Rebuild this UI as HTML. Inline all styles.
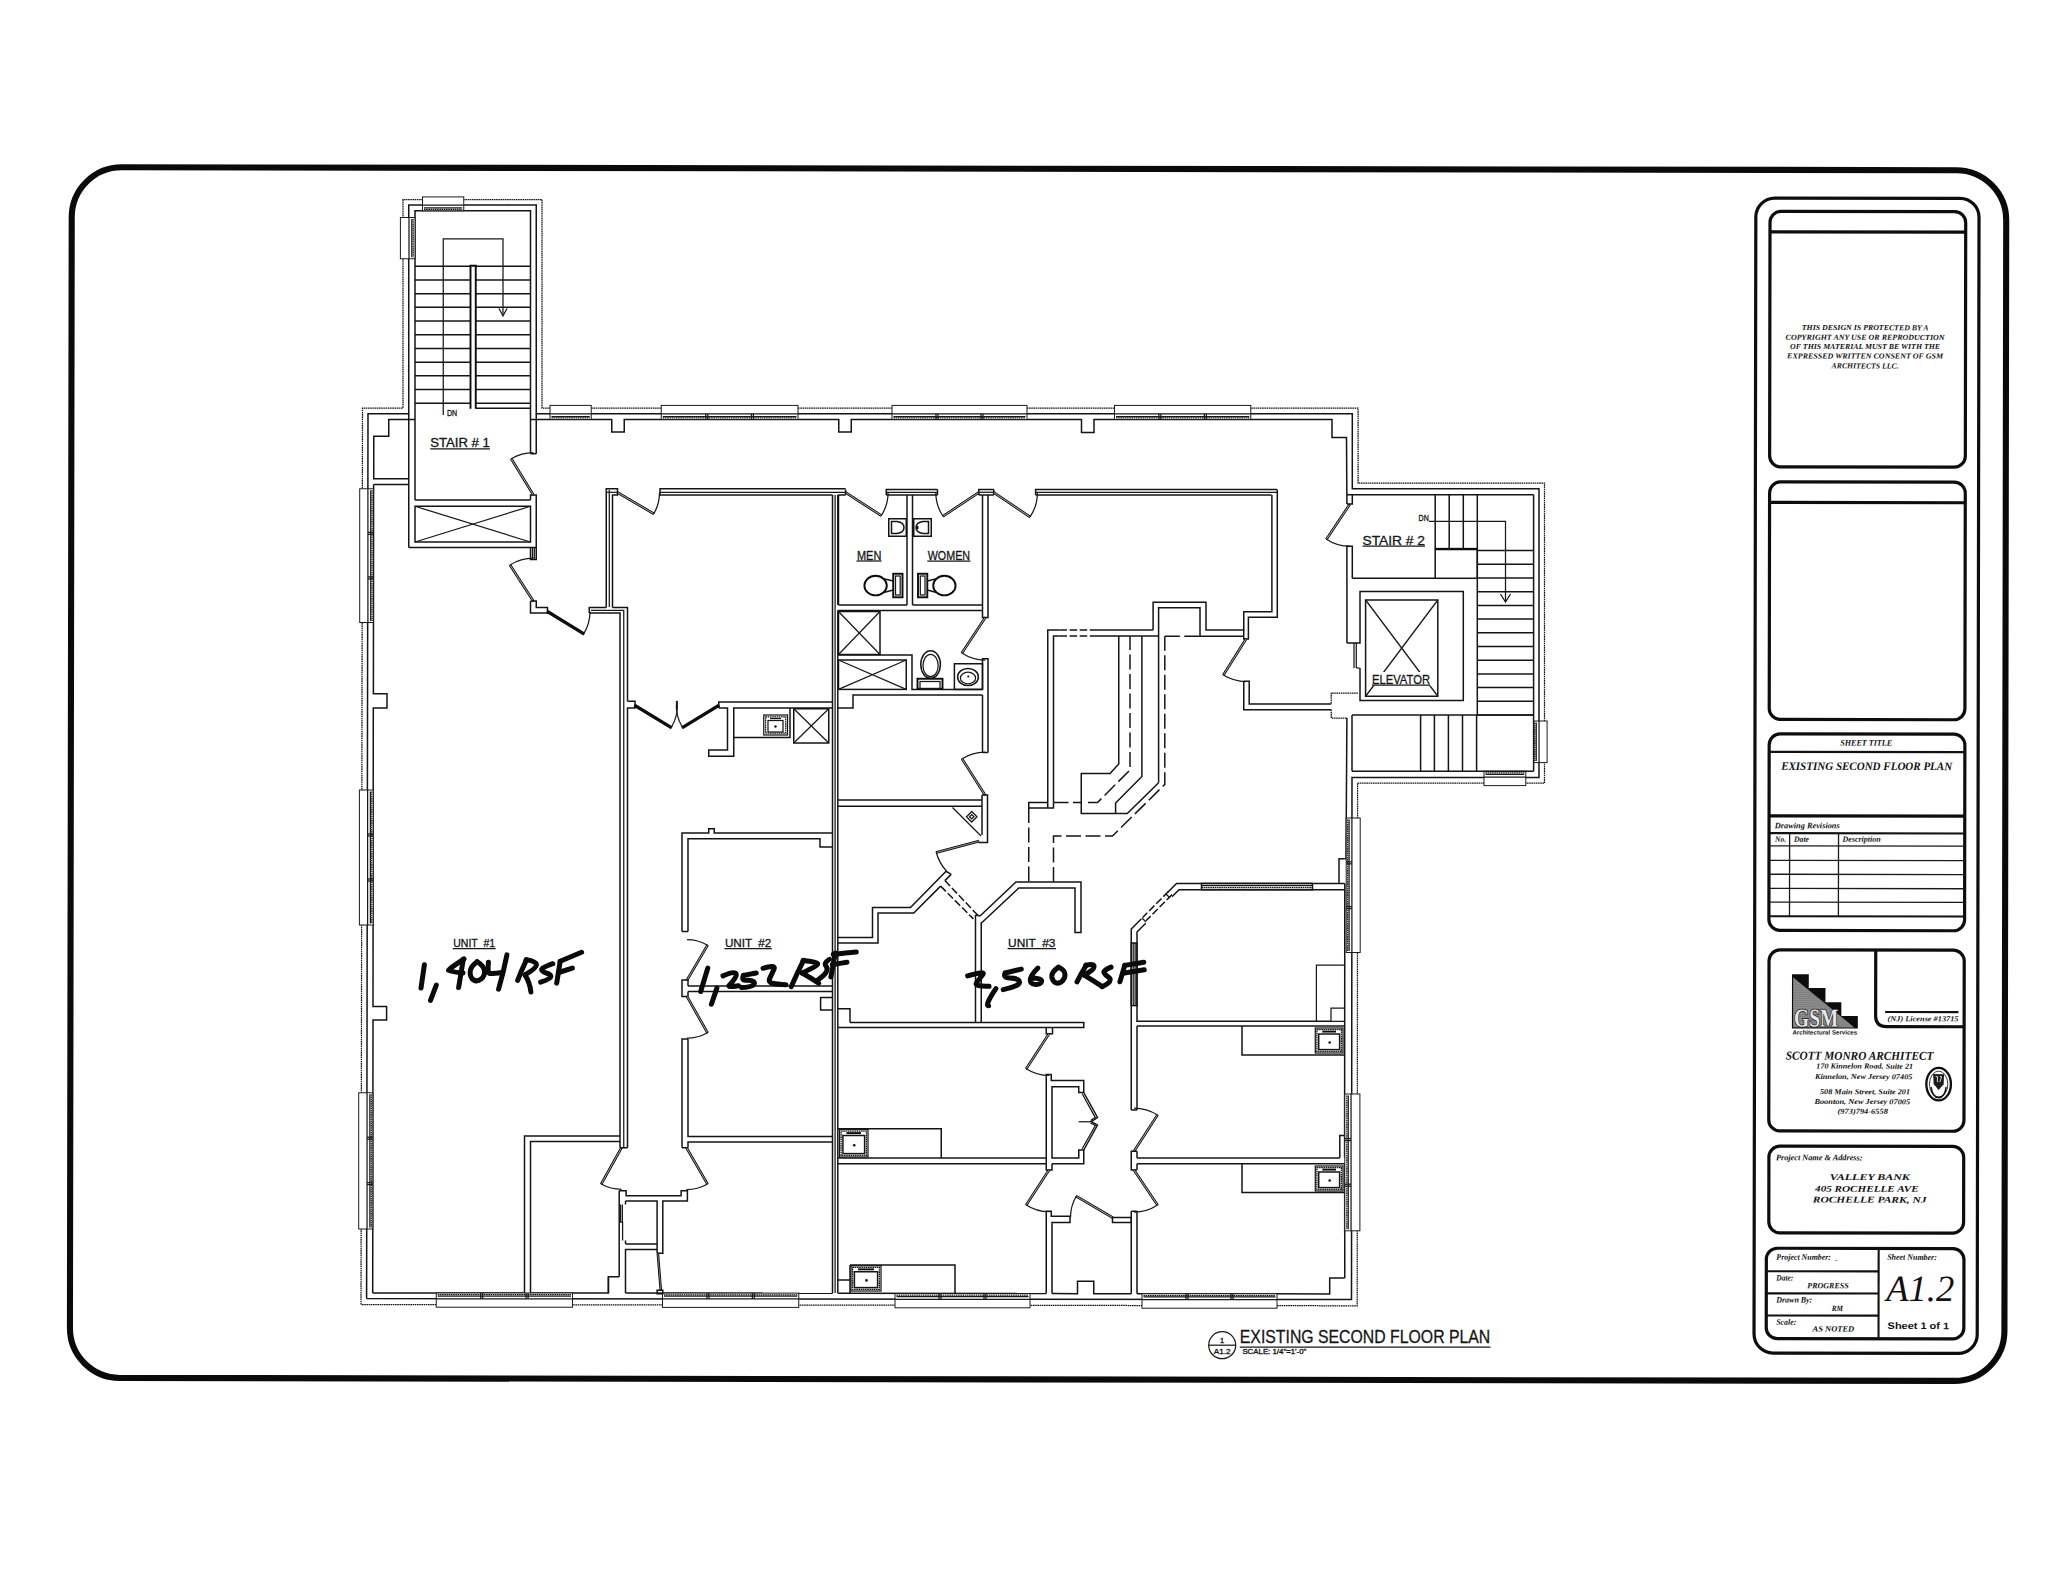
<!DOCTYPE html>
<html><head><meta charset="utf-8"><title>Existing Second Floor Plan</title>
<style>
html,body{margin:0;padding:0;background:#fff}
svg{display:block}
.s{fill:none;stroke:#141414;stroke-width:1.5}
.t{fill:none;stroke:#181818;stroke-width:1.25}
.o{fill:none;stroke:#151515;stroke-width:1.25;stroke-dasharray:1.6 0.6}
.k{fill:none;stroke:#0c0c0c;stroke-width:1.9}
.da{fill:none;stroke:#161616;stroke-width:1.5;stroke-dasharray:15 4.5}
.db{fill:none;stroke:#161616;stroke-width:1.5;stroke-dasharray:7.5 2.6}
.dl{fill:#9a9a9a;stroke:#111;stroke-width:1.0}
.dk{fill:#111;stroke:#0a0a0a;stroke-width:1.3}
.w{fill:#fff;stroke:#1c1c1c;stroke-width:1.0}
.tb{fill:none;stroke:#0d0d0d;stroke-width:3.2}
.tb2{fill:none;stroke:#111;stroke-width:2.1}
.tl{fill:none;stroke:#1a1a1a;stroke-width:1.3}
.hw{fill:none;stroke:#0a0a0a;stroke-width:5.0;stroke-linecap:round;stroke-linejoin:round}
text{font-family:"Liberation Sans",sans-serif;fill:#111}
text.cad{font-family:"Liberation Sans",sans-serif;fill:#151515;stroke:#151515;stroke-width:0.3}
text.ser{font-family:"Liberation Serif",serif;font-style:italic;fill:#111}
text.b{font-weight:bold}
text.bb{font-weight:bold;font-style:normal}
text.sans{font-family:"Liberation Sans",sans-serif;font-weight:bold}
</style></head>
<body>
<svg width="2048" height="1583" viewBox="0 0 2048 1583">
<rect x="0" y="0" width="2048" height="1583" fill="#fff"/>
<g transform="rotate(0.092 1024 790)"><rect x="70.8" y="168.7" width="1934.5" height="1210.7" rx="50" ry="50" fill="none" stroke="#0a0a0a" stroke-width="6.1"/></g>
<g transform="rotate(0.092 1024 790) translate(0.1,-1.35)">
<rect class="tb" x="1754.8" y="198.2" width="223.2" height="1155" rx="19"/>
<rect class="tb" x="1769" y="211.5" width="195.7" height="255.5" rx="11"/>
<path class="tb" d="M1769.00 232.00 L1964.70 232.00"/>
<rect class="tb" x="1769" y="482" width="195.7" height="237.6" rx="11"/>
<path class="tb" d="M1769.00 502.60 L1964.70 502.60"/>
<rect class="tb" x="1769" y="734" width="195.7" height="196.6" rx="11"/>
<path class="tb2" d="M1769.00 752.00 L1964.70 752.00"/>
<path class="tb" d="M1769.00 816.00 L1964.70 816.00"/>
<path class="tb2" d="M1769.00 833.30 L1964.70 833.30"/>
<path class="tl" d="M1769.00 846.00 L1964.70 846.00"/>
<path class="tl" d="M1769.00 860.50 L1964.70 860.50"/>
<path class="tl" d="M1769.00 874.40 L1964.70 874.40"/>
<path class="tl" d="M1769.00 888.60 L1964.70 888.60"/>
<path class="tl" d="M1769.00 902.20 L1964.70 902.20"/>
<path class="tb2" d="M1769.00 916.40 L1964.70 916.40"/>
<path class="tl" d="M1789.60 833.30 L1789.60 916.40"/>
<path class="tl" d="M1838.50 833.30 L1838.50 916.40"/>
<rect class="tb" x="1769.2" y="950" width="195.2" height="181.1" rx="11"/>
<path class="tb" d="M1875.9 950 L1875.9 1016 Q1875.9 1026.6 1887 1026.6 L1964.6 1026.6"/>
<path class="tb2" d="M1885.40 1012.00 L1958.70 1012.00"/>
<rect class="tb" x="1769.4" y="1146.3" width="194.8" height="86.7" rx="11"/>
<rect class="tb" x="1767" y="1248.4" width="197.6" height="90.4" rx="11"/>
<path class="tb2" d="M1879.30 1248.40 L1879.30 1338.80"/>
<path class="tb2" d="M1767.00 1271.40 L1879.30 1271.40"/>
<path class="tb2" d="M1767.00 1293.50 L1879.30 1293.50"/>
<path class="tb2" d="M1767.00 1315.60 L1879.30 1315.60"/>
<text class="ser b" x="1864.30" y="330.10" font-size="7.6" text-anchor="middle" textLength="126.7" lengthAdjust="spacingAndGlyphs">THIS DESIGN IS PROTECTED BY A</text>
<text class="ser b" x="1864.30" y="339.80" font-size="7.6" text-anchor="middle" textLength="159.0" lengthAdjust="spacingAndGlyphs">COPYRIGHT ANY USE OR REPRODUCTION</text>
<text class="ser b" x="1864.30" y="349.00" font-size="7.6" text-anchor="middle" textLength="150.0" lengthAdjust="spacingAndGlyphs">OF THIS MATERIAL MUST BE WITH THE</text>
<text class="ser b" x="1864.30" y="358.50" font-size="7.6" text-anchor="middle" textLength="156.0" lengthAdjust="spacingAndGlyphs">EXPRESSED WRITTEN CONSENT OF GSM</text>
<text class="ser b" x="1864.30" y="368.40" font-size="7.6" text-anchor="middle" textLength="67.0" lengthAdjust="spacingAndGlyphs">ARCHITECTS LLC.</text>
<text class="ser b" x="1866.00" y="745.60" font-size="8.3" text-anchor="middle" textLength="52.0" lengthAdjust="spacingAndGlyphs">SHEET TITLE</text>
<text class="ser b" x="1781.00" y="770.00" font-size="11.5" text-anchor="start" textLength="171.0" lengthAdjust="spacingAndGlyphs">EXISTING SECOND FLOOR PLAN</text>
<text class="ser b" x="1774.70" y="828.30" font-size="8.3" text-anchor="start" textLength="65.0" lengthAdjust="spacingAndGlyphs">Drawing Revisions</text>
<text class="ser b" x="1775.00" y="841.80" font-size="8" text-anchor="start" textLength="11.0" lengthAdjust="spacingAndGlyphs">No.</text>
<text class="ser b" x="1794.00" y="841.80" font-size="8" text-anchor="start" textLength="15.0" lengthAdjust="spacingAndGlyphs">Date</text>
<text class="ser b" x="1842.60" y="841.80" font-size="8" text-anchor="start" textLength="38.0" lengthAdjust="spacingAndGlyphs">Description</text>
<text class="ser b" x="1887.80" y="1021.20" font-size="7.5" text-anchor="start" textLength="71.0" lengthAdjust="spacingAndGlyphs">(NJ) License #13715</text>
<text class="ser b" x="1786.00" y="1059.70" font-size="12" text-anchor="start" textLength="147.7" lengthAdjust="spacingAndGlyphs">SCOTT MONRO ARCHITECT</text>
<text class="ser b" x="1816.70" y="1068.60" font-size="7.6" text-anchor="start" textLength="96.7" lengthAdjust="spacingAndGlyphs">170 Kinnelon Road, Suite 21</text>
<text class="ser b" x="1815.30" y="1079.10" font-size="7.6" text-anchor="start" textLength="97.5" lengthAdjust="spacingAndGlyphs">Kinnelon, New Jersey 07405</text>
<text class="ser b" x="1820.40" y="1094.20" font-size="7.6" text-anchor="start" textLength="90.0" lengthAdjust="spacingAndGlyphs">508 Main Street, Suite 201</text>
<text class="ser b" x="1814.80" y="1104.10" font-size="7.6" text-anchor="start" textLength="95.8" lengthAdjust="spacingAndGlyphs">Boonton, New Jersey 07005</text>
<text class="ser b" x="1838.00" y="1113.70" font-size="7.6" text-anchor="start" textLength="50.3" lengthAdjust="spacingAndGlyphs">(973)794-6558</text>
<text class="ser b" x="1776.40" y="1160.40" font-size="8.3" text-anchor="start" textLength="86.6" lengthAdjust="spacingAndGlyphs">Project Name &amp; Address:</text>
<text class="ser b" x="1830.30" y="1180.00" font-size="8.8" text-anchor="start" textLength="80.0" lengthAdjust="spacingAndGlyphs">VALLEY BANK</text>
<text class="ser b" x="1815.60" y="1191.70" font-size="8.8" text-anchor="start" textLength="103.7" lengthAdjust="spacingAndGlyphs">405 ROCHELLE AVE</text>
<text class="ser b" x="1813.30" y="1202.60" font-size="8.8" text-anchor="start" textLength="113.7" lengthAdjust="spacingAndGlyphs">ROCHELLE PARK, NJ</text>
<text class="ser b" x="1777.00" y="1259.80" font-size="8.3" text-anchor="start" textLength="54.6" lengthAdjust="spacingAndGlyphs">Project Number:</text>
<text class="ser b" x="1836.00" y="1262.00" font-size="7.5" text-anchor="start">-</text>
<text class="ser b" x="1777.00" y="1280.60" font-size="8.3" text-anchor="start" textLength="17.0" lengthAdjust="spacingAndGlyphs">Date:</text>
<text class="ser b" x="1808.00" y="1288.30" font-size="8" text-anchor="start" textLength="41.4" lengthAdjust="spacingAndGlyphs">PROGRESS</text>
<text class="ser b" x="1777.00" y="1302.60" font-size="8.3" text-anchor="start" textLength="36.0" lengthAdjust="spacingAndGlyphs">Drawn By:</text>
<text class="ser b" x="1832.40" y="1311.00" font-size="8" text-anchor="start" textLength="11.3" lengthAdjust="spacingAndGlyphs">RM</text>
<text class="ser b" x="1777.00" y="1324.80" font-size="8.3" text-anchor="start" textLength="20.0" lengthAdjust="spacingAndGlyphs">Scale:</text>
<text class="ser b" x="1813.30" y="1331.60" font-size="8" text-anchor="start" textLength="41.7" lengthAdjust="spacingAndGlyphs">AS NOTED</text>
<text class="ser b" x="1887.80" y="1259.80" font-size="8.3" text-anchor="start" textLength="49.7" lengthAdjust="spacingAndGlyphs">Sheet Number:</text>
<text class="ser" x="1887.00" y="1301.00" font-size="37" text-anchor="start" textLength="68.0" lengthAdjust="spacingAndGlyphs">A1.2</text>
<text class="sans" x="1888.40" y="1329.00" font-size="9.5" text-anchor="start" textLength="61.4" lengthAdjust="spacingAndGlyphs">Sheet 1 of 1</text>
<path d="M1792.2 974.4 L1809 974.4 L1809 988 L1825.7 988 L1825.7 1002.3 L1841.6 1002.3 L1841.6 1016 L1858.1 1016 L1858.1 1028.5 L1792.2 1028.5 Z" fill="#0d0d0d"/>
<path d="M1793.4 977.5 L1854.5 1027.4 L1793.4 1027.4 Z" fill="#9c9c9c"/>
<g stroke="#444" stroke-width="0.5"><path d="M1793.4 979.0 L1795.2 979.0"/><path d="M1793.4 981.0 L1797.7 981.0"/><path d="M1793.4 983.0 L1800.1 983.0"/><path d="M1793.4 985.0 L1802.6 985.0"/><path d="M1793.4 987.0 L1805.0 987.0"/><path d="M1793.4 989.0 L1807.5 989.0"/><path d="M1793.4 991.0 L1809.9 991.0"/><path d="M1793.4 993.0 L1812.4 993.0"/><path d="M1793.4 995.0 L1814.8 995.0"/><path d="M1793.4 997.0 L1817.3 997.0"/><path d="M1793.4 999.0 L1819.7 999.0"/><path d="M1793.4 1001.0 L1822.2 1001.0"/><path d="M1793.4 1003.0 L1824.6 1003.0"/><path d="M1793.4 1005.0 L1827.1 1005.0"/><path d="M1793.4 1007.0 L1829.5 1007.0"/><path d="M1793.4 1009.0 L1832.0 1009.0"/><path d="M1793.4 1011.0 L1834.4 1011.0"/><path d="M1793.4 1013.0 L1836.9 1013.0"/><path d="M1793.4 1015.0 L1839.3 1015.0"/><path d="M1793.4 1017.0 L1841.8 1017.0"/><path d="M1793.4 1019.0 L1844.2 1019.0"/><path d="M1793.4 1021.0 L1846.7 1021.0"/><path d="M1793.4 1023.0 L1849.1 1023.0"/><path d="M1793.4 1025.0 L1851.6 1025.0"/><path d="M1793.4 1027.0 L1854.0 1027.0"/></g>
<text class="ser bb" x="1794.40" y="1026.60" font-size="25.5" text-anchor="start" textLength="44.0" lengthAdjust="spacingAndGlyphs" style="fill:#e6e6e6;stroke:#111;stroke-width:1.5;paint-order:stroke">GSM</text>
<text class="sans" x="1792.70" y="1034.60" font-size="6.2" text-anchor="start" textLength="64.8" lengthAdjust="spacingAndGlyphs">Architectural Services</text>
<ellipse cx="1939" cy="1084" rx="12.3" ry="16.3" fill="none" stroke="#0d0d0d" stroke-width="2.3"/>
<ellipse cx="1939" cy="1084" rx="9.2" ry="13" fill="none" stroke="#222" stroke-width="0.9"/>
<path d="M1933.5 1074 L1944.5 1074 L1944 1084 L1939 1090 L1934 1084 Z" fill="#1a1a1a"/>
<path d="M1936 1076.5 L1937.8 1076.5 L1937.8 1082 M1940.2 1076.5 L1942 1076.5 L1940.2 1082" stroke="#eee" stroke-width="0.9" fill="none"/>
<path d="M1931.5 1087 Q1932.5 1097 1939 1097.5 Q1945.5 1097 1946.5 1087" fill="none" stroke="#111" stroke-width="1.6"/>
</g>
<path class="o" d="M361.00 1304.50 L362.50 408.00 L403.00 408.00 L403.00 199.50 L542.00 199.50 L542.00 408.00 L1358.10 408.00 L1358.10 483.00 L1544.50 483.00 L1544.50 783.00 L1357.60 783.00 L1357.20 1305.80 L361.00 1304.50"/>
<path class="s" d="M366.60 1298.60 L368.00 413.75 L408.75 413.75 L408.75 205.00 L536.25 205.00 L536.25 413.75 L1352.30 413.75 L1352.30 488.75 L1539.00 488.75 L1539.00 777.50 L1352.00 777.50 L1351.50 1299.60 L366.60 1298.60"/>
<path class="s" d="M415.00 500.00 L415.00 210.75 L530.50 210.75 L530.50 453.75"/>
<path class="s" d="M408.75 413.75 L408.75 547.50"/>
<path class="s" d="M530.50 419.50 L611.75 419.50 L611.75 432.00 L624.25 432.00 L624.25 419.50 L838.75 419.50 L838.75 432.00 L851.25 432.00 L851.25 419.50 L1081.50 419.50 L1081.50 432.50 L1094.00 432.50 L1094.00 419.50 L1332.00 419.50 L1332.00 437.50 L1346.50 437.50 L1346.90 504.00"/>
<path class="s" d="M536.25 413.75 L536.25 453.75"/>
<path class="s" d="M415.00 419.50 L388.75 419.50 L388.75 436.25 L373.75 436.25 L373.75 478.75 L408.75 478.75"/>
<path class="s" d="M373.60 484.50 L408.75 484.50"/>
<path class="s" d="M373.60 484.50 L373.40 693.75 L387.00 693.75 L387.00 708.00 L373.30 708.00 L373.00 1006.50 L386.60 1006.50 L386.60 1020.00 L373.00 1020.00 L372.70 1292.90"/>
<path class="s" d="M372.70 1292.90 L524.50 1292.90"/>
<path class="s" d="M530.50 1292.90 L608.40 1292.90 L608.40 1276.70 L619.20 1276.70"/>
<path class="s" d="M625.50 1293.00 L832.50 1293.20"/>
<path class="s" d="M838.00 1293.30 L1046.25 1293.60"/>
<path class="s" d="M1052.00 1293.60 L1077.50 1293.70 L1077.50 1281.25 L1093.75 1281.25 L1093.75 1293.70 L1131.25 1293.75"/>
<path class="s" d="M1137.00 1293.75 L1329.70 1293.90 L1329.70 1278.00 L1344.80 1278.00"/>
<path class="s" d="M1346.90 718.00 L1346.00 858.75"/>
<path class="s" d="M1344.80 883.40 L1344.60 1135.50 L1339.80 1135.50 L1339.80 1157.80"/>
<path class="s" d="M1344.60 1163.75 L1344.80 1278.00"/>
<path class="s" d="M1344.60 1135.50 L1344.60 1157.80"/>
<rect class="w" x="422.50" y="196.90" width="41.25" height="13.85"/>
<path class="t" d="M422.50 205.12 L463.75 205.12"/>
<path class="t" d="M424.00 207.93 L462.25 207.93"/>
<path class="o" d="M424.00 209.32 L462.25 209.32"/>
<rect class="w" x="400.40" y="217.50" width="14.60" height="41.25"/>
<path class="t" d="M409.00 217.50 L409.00 258.75"/>
<path class="t" d="M411.80 219.00 L411.80 257.25"/>
<path class="o" d="M413.20 219.00 L413.20 257.25"/>
<rect class="w" x="550.00" y="405.40" width="41.25" height="14.10"/>
<path class="t" d="M550.00 413.75 L591.25 413.75"/>
<path class="t" d="M551.50 416.55 L589.75 416.55"/>
<path class="o" d="M551.50 417.95 L589.75 417.95"/>
<rect class="w" x="661.25" y="405.40" width="136.75" height="14.10"/>
<path class="t" d="M661.25 413.75 L798.00 413.75"/>
<path class="t" d="M662.75 416.55 L796.50 416.55"/>
<path class="o" d="M662.75 417.95 L796.50 417.95"/>
<path class="t" d="M705.83 413.75 L705.83 419.50"/>
<path class="t" d="M707.83 413.75 L707.83 419.50"/>
<path class="t" d="M751.42 413.75 L751.42 419.50"/>
<path class="t" d="M753.42 413.75 L753.42 419.50"/>
<rect class="w" x="892.00" y="405.40" width="135.00" height="14.10"/>
<path class="t" d="M892.00 413.75 L1027.00 413.75"/>
<path class="t" d="M893.50 416.55 L1025.50 416.55"/>
<path class="o" d="M893.50 417.95 L1025.50 417.95"/>
<path class="t" d="M936.00 413.75 L936.00 419.50"/>
<path class="t" d="M938.00 413.75 L938.00 419.50"/>
<path class="t" d="M981.00 413.75 L981.00 419.50"/>
<path class="t" d="M983.00 413.75 L983.00 419.50"/>
<rect class="w" x="1114.50" y="405.40" width="136.25" height="14.10"/>
<path class="t" d="M1114.50 413.75 L1250.75 413.75"/>
<path class="t" d="M1116.00 416.55 L1249.25 416.55"/>
<path class="o" d="M1116.00 417.95 L1249.25 417.95"/>
<path class="t" d="M1158.92 413.75 L1158.92 419.50"/>
<path class="t" d="M1160.92 413.75 L1160.92 419.50"/>
<path class="t" d="M1204.33 413.75 L1204.33 419.50"/>
<path class="t" d="M1206.33 413.75 L1206.33 419.50"/>
<rect class="w" x="359.70" y="488.75" width="13.80" height="133.75"/>
<path class="t" d="M367.90 488.75 L367.90 622.50"/>
<path class="t" d="M370.70 490.25 L370.70 621.00"/>
<path class="o" d="M372.10 490.25 L372.10 621.00"/>
<path class="t" d="M367.90 532.33 L373.50 532.33"/>
<path class="t" d="M367.90 534.33 L373.50 534.33"/>
<path class="t" d="M367.90 576.92 L373.50 576.92"/>
<path class="t" d="M367.90 578.92 L373.50 578.92"/>
<rect class="w" x="359.40" y="790.00" width="13.80" height="135.00"/>
<path class="t" d="M367.60 790.00 L367.60 925.00"/>
<path class="t" d="M370.40 791.50 L370.40 923.50"/>
<path class="o" d="M371.80 791.50 L371.80 923.50"/>
<path class="t" d="M367.60 834.00 L373.20 834.00"/>
<path class="t" d="M367.60 836.00 L373.20 836.00"/>
<path class="t" d="M367.60 879.00 L373.20 879.00"/>
<path class="t" d="M367.60 881.00 L373.20 881.00"/>
<rect class="w" x="358.70" y="1092.75" width="14.10" height="136.25"/>
<path class="t" d="M367.05 1092.75 L367.05 1229.00"/>
<path class="t" d="M369.85 1094.25 L369.85 1227.50"/>
<path class="o" d="M371.25 1094.25 L371.25 1227.50"/>
<path class="t" d="M367.05 1137.17 L372.80 1137.17"/>
<path class="t" d="M367.05 1139.17 L372.80 1139.17"/>
<path class="t" d="M367.05 1182.58 L372.80 1182.58"/>
<path class="t" d="M367.05 1184.58 L372.80 1184.58"/>
<rect class="w" x="436.25" y="1293.00" width="136.25" height="14.20"/>
<path class="t" d="M436.25 1298.80 L572.50 1298.80"/>
<path class="t" d="M437.75 1296.00 L571.00 1296.00"/>
<path class="o" d="M437.75 1294.60 L571.00 1294.60"/>
<path class="t" d="M480.67 1298.80 L480.67 1293.00"/>
<path class="t" d="M482.67 1298.80 L482.67 1293.00"/>
<path class="t" d="M526.08 1298.80 L526.08 1293.00"/>
<path class="t" d="M528.08 1298.80 L528.08 1293.00"/>
<rect class="w" x="662.50" y="1293.10" width="136.25" height="14.30"/>
<path class="t" d="M662.50 1298.95 L798.75 1298.95"/>
<path class="t" d="M664.00 1296.15 L797.25 1296.15"/>
<path class="o" d="M664.00 1294.75 L797.25 1294.75"/>
<path class="t" d="M706.92 1298.95 L706.92 1293.10"/>
<path class="t" d="M708.92 1298.95 L708.92 1293.10"/>
<path class="t" d="M752.33 1298.95 L752.33 1293.10"/>
<path class="t" d="M754.33 1298.95 L754.33 1293.10"/>
<rect class="w" x="895.00" y="1293.50" width="135.00" height="14.30"/>
<path class="t" d="M895.00 1299.35 L1030.00 1299.35"/>
<path class="t" d="M896.50 1296.55 L1028.50 1296.55"/>
<path class="o" d="M896.50 1295.15 L1028.50 1295.15"/>
<path class="t" d="M939.00 1299.35 L939.00 1293.50"/>
<path class="t" d="M941.00 1299.35 L941.00 1293.50"/>
<path class="t" d="M984.00 1299.35 L984.00 1293.50"/>
<path class="t" d="M986.00 1299.35 L986.00 1293.50"/>
<rect class="w" x="1142.00" y="1293.80" width="135.00" height="14.40"/>
<path class="t" d="M1142.00 1299.70 L1277.00 1299.70"/>
<path class="t" d="M1143.50 1296.90 L1275.50 1296.90"/>
<path class="o" d="M1143.50 1295.50 L1275.50 1295.50"/>
<path class="t" d="M1186.00 1299.70 L1186.00 1293.80"/>
<path class="t" d="M1188.00 1299.70 L1188.00 1293.80"/>
<path class="t" d="M1231.00 1299.70 L1231.00 1293.80"/>
<path class="t" d="M1233.00 1299.70 L1233.00 1293.80"/>
<rect class="w" x="1346.20" y="818.00" width="14.00" height="134.50"/>
<path class="t" d="M1351.90 818.00 L1351.90 952.50"/>
<path class="t" d="M1349.10 819.50 L1349.10 951.00"/>
<path class="o" d="M1347.70 819.50 L1347.70 951.00"/>
<path class="t" d="M1351.90 861.83 L1346.20 861.83"/>
<path class="t" d="M1351.90 863.83 L1346.20 863.83"/>
<path class="t" d="M1351.90 906.67 L1346.20 906.67"/>
<path class="t" d="M1351.90 908.67 L1346.20 908.67"/>
<rect class="w" x="1344.80" y="1094.00" width="15.10" height="136.80"/>
<path class="t" d="M1351.05 1094.00 L1351.05 1230.80"/>
<path class="t" d="M1348.25 1095.50 L1348.25 1229.30"/>
<path class="o" d="M1346.85 1095.50 L1346.85 1229.30"/>
<path class="t" d="M1351.05 1138.60 L1344.80 1138.60"/>
<path class="t" d="M1351.05 1140.60 L1344.80 1140.60"/>
<path class="t" d="M1351.05 1184.20 L1344.80 1184.20"/>
<path class="t" d="M1351.05 1186.20 L1344.80 1186.20"/>
<rect class="w" x="1533.60" y="721.00" width="13.50" height="41.60"/>
<path class="t" d="M1539.05 721.00 L1539.05 762.60"/>
<path class="t" d="M1536.25 722.50 L1536.25 761.10"/>
<path class="o" d="M1534.85 722.50 L1534.85 761.10"/>
<rect class="w" x="1484.00" y="771.25" width="41.80" height="14.35"/>
<path class="t" d="M1484.00 777.12 L1525.80 777.12"/>
<path class="t" d="M1485.50 774.33 L1524.30 774.33"/>
<path class="o" d="M1485.50 772.92 L1524.30 772.92"/>
<path class="s" d="M415.00 266.25 L470.50 266.25"/>
<path class="s" d="M475.75 266.25 L530.50 266.25"/>
<path class="s" d="M415.00 279.95 L470.50 279.95"/>
<path class="s" d="M475.75 279.95 L530.50 279.95"/>
<path class="s" d="M415.00 293.65 L470.50 293.65"/>
<path class="s" d="M475.75 293.65 L530.50 293.65"/>
<path class="s" d="M415.00 307.35 L470.50 307.35"/>
<path class="s" d="M475.75 307.35 L530.50 307.35"/>
<path class="s" d="M415.00 321.05 L470.50 321.05"/>
<path class="s" d="M475.75 321.05 L530.50 321.05"/>
<path class="s" d="M415.00 334.75 L470.50 334.75"/>
<path class="s" d="M475.75 334.75 L530.50 334.75"/>
<path class="s" d="M415.00 348.45 L470.50 348.45"/>
<path class="s" d="M475.75 348.45 L530.50 348.45"/>
<path class="s" d="M415.00 362.15 L470.50 362.15"/>
<path class="s" d="M475.75 362.15 L530.50 362.15"/>
<path class="s" d="M415.00 375.85 L470.50 375.85"/>
<path class="s" d="M475.75 375.85 L530.50 375.85"/>
<path class="s" d="M415.00 389.55 L470.50 389.55"/>
<path class="s" d="M475.75 389.55 L530.50 389.55"/>
<path class="s" d="M415.00 403.25 L470.50 403.25"/>
<path class="s" d="M475.75 403.25 L530.50 403.25"/>
<path class="k" d="M470.50 408.75 L470.50 265.75 L475.75 265.75 L475.75 408.75"/>
<path class="s" d="M475.75 408.20 L530.50 408.20"/>
<path class="t" d="M443.25 415.00 L443.25 238.75 L503.00 238.75 L503.00 315.00"/>
<path class="t" d="M499.00 308.50 L503.00 316.00 L507.00 308.50"/>
<text class="cad" x="446.90" y="415.60" font-size="8.8" text-anchor="start" textLength="10.2" lengthAdjust="spacingAndGlyphs">DN</text>
<text class="cad" x="430.20" y="447.10" font-size="12" text-anchor="start" textLength="59.7" lengthAdjust="spacingAndGlyphs">STAIR  # 1</text>
<path class="t" d="M430.20 448.80 L490.00 448.80"/>
<path class="s" d="M415.00 500.00 L530.50 500.00"/>
<path class="s" d="M408.75 547.50 L536.25 547.50 L536.25 495.00 L530.50 495.00 L530.50 500.00"/>
<rect class="s" x="415.00" y="506.25" width="115.50" height="35.75"/>
<path class="t" d="M415.00 506.25 L530.50 542.00"/>
<path class="t" d="M415.00 542.00 L530.50 506.25"/>
<path class="dl" d="M534.17 494.53 L512.02 458.28 L510.48 459.22 L532.63 495.47 Z"/>
<path class="t" d="M511.25 458.75 A42.48 42.48 0 0 1 533.40 452.52"/>
<path class="s" d="M530.50 453.75 L536.25 453.75"/>
<path class="s" d="M530.50 547.50 L530.50 559.50 L536.25 559.50 L536.25 547.50"/>
<path class="t" d="M532.50 548.00 L532.50 559.00"/>
<path class="t" d="M534.30 548.00 L534.30 559.00"/>
<path class="dl" d="M534.16 600.76 L510.76 564.51 L509.24 565.49 L532.64 601.74 Z"/>
<path class="t" d="M510.00 565.00 A43.15 43.15 0 0 1 533.40 558.10"/>
<path class="s" d="M530.50 601.00 L536.25 601.00 L536.25 607.50 L547.50 607.50 L547.50 613.00 L530.50 613.00 L530.50 601.00"/>
<path class="dk" d="M546.98 612.35 L583.23 634.60 L584.27 632.90 L548.02 610.65 Z"/>
<path class="t" d="M583.75 633.75 A42.53 42.53 0 0 0 590.03 611.50"/>
<path class="s" d="M589.25 613.00 L589.25 607.50 L606.25 607.50"/>
<path class="s" d="M612.50 607.50 L627.50 607.50 L627.50 701.25"/>
<path class="s" d="M589.25 613.00 L620.00 613.00 L620.00 1147.75"/>
<path class="t" d="M591.00 610.30 L623.75 610.30 L623.75 1147.00"/>
<path class="s" d="M606.25 607.50 L606.25 488.75 L617.50 488.75 L617.50 495.00 L612.50 495.00 L612.50 607.50"/>
<path class="t" d="M609.30 490.00 L609.30 607.00"/>
<path class="dl" d="M617.04 493.28 L653.29 514.53 L654.21 512.97 L617.96 491.72 Z"/>
<path class="t" d="M653.75 513.75 A42.02 42.02 0 0 0 659.52 492.50"/>
<path class="s" d="M660.00 495.00 L660.00 488.75 L845.60 488.75"/>
<path class="s" d="M660.00 495.00 L832.50 495.00"/>
<path class="s" d="M627.50 701.25 L635.00 701.25 L635.00 708.00 L627.50 708.00 L627.50 1147.75"/>
<path class="s" d="M1346.90 494.70 L1533.60 494.70"/>
<path class="s" d="M1533.60 494.70 L1533.60 771.25"/>
<path class="s" d="M1352.00 771.25 L1533.60 771.25"/>
<path class="s" d="M1435.20 494.70 L1435.20 548.60"/>
<path class="s" d="M1449.20 494.70 L1449.20 548.60"/>
<path class="s" d="M1463.30 494.70 L1463.30 548.60"/>
<path class="s" d="M1477.30 494.70 L1477.30 715.00"/>
<rect class="s" x="1435.20" y="548.60" width="42.10" height="29.70"/>
<path class="k" d="M1435.20 549.20 L1477.30 549.20"/>
<path class="s" d="M1352.30 578.30 L1435.20 578.30"/>
<path class="s" d="M1477.30 550.60 L1533.60 550.60"/>
<path class="s" d="M1477.30 564.30 L1533.60 564.30"/>
<path class="s" d="M1477.30 578.00 L1533.60 578.00"/>
<path class="s" d="M1477.30 591.70 L1533.60 591.70"/>
<path class="s" d="M1477.30 605.40 L1533.60 605.40"/>
<path class="s" d="M1477.30 619.10 L1533.60 619.10"/>
<path class="s" d="M1477.30 632.80 L1533.60 632.80"/>
<path class="s" d="M1477.30 646.50 L1533.60 646.50"/>
<path class="s" d="M1477.30 660.20 L1533.60 660.20"/>
<path class="s" d="M1477.30 673.90 L1533.60 673.90"/>
<path class="s" d="M1477.30 687.60 L1533.60 687.60"/>
<path class="s" d="M1477.30 701.30 L1533.60 701.30"/>
<path class="s" d="M1477.30 715.00 L1533.60 715.00"/>
<path class="s" d="M1352.00 715.00 L1533.60 715.00"/>
<path class="s" d="M1420.60 715.00 L1420.60 771.25"/>
<path class="s" d="M1434.40 715.00 L1434.40 771.25"/>
<path class="s" d="M1448.40 715.00 L1448.40 771.25"/>
<path class="s" d="M1462.50 715.00 L1462.50 771.25"/>
<path class="s" d="M1476.60 715.00 L1476.60 771.25"/>
<path class="t" d="M1429.00 521.25 L1505.50 521.25 L1505.50 601.00"/>
<path class="t" d="M1500.50 594.00 L1505.50 602.00 L1510.50 594.00"/>
<text class="cad" x="1418.60" y="520.60" font-size="8.8" text-anchor="start" textLength="10.2" lengthAdjust="spacingAndGlyphs">DN</text>
<text class="cad" x="1362.50" y="544.60" font-size="13" text-anchor="start" textLength="62.5" lengthAdjust="spacingAndGlyphs">STAIR  # 2</text>
<path class="t" d="M1362.50 546.00 L1425.00 546.00"/>
<path class="s" d="M1352.30 494.70 L1352.30 504.00 L1346.90 504.00"/>
<path class="dl" d="M1348.85 504.00 L1325.75 538.70 L1327.25 539.70 L1350.35 505.00 Z"/>
<path class="t" d="M1326.50 539.20 A41.69 41.69 0 0 0 1349.60 546.19"/>
<path class="s" d="M1346.90 643.00 L1346.90 546.25 L1352.30 546.25 L1352.30 578.30"/>
<path class="s" d="M1346.90 643.00 L1360.00 643.00 L1360.00 591.50 L1463.30 591.50 L1463.30 700.60 L1360.00 700.60 L1360.00 668.00"/>
<path class="t" d="M1354.00 643.00 L1354.00 668.00"/>
<path class="t" d="M1356.30 643.00 L1356.30 668.00"/>
<path class="t" d="M1356.30 668.00 L1359.60 668.00"/>
<rect class="s" x="1365.60" y="600.00" width="72.20" height="96.25"/>
<path class="t" d="M1365.60 600.00 L1437.80 696.25"/>
<path class="t" d="M1365.60 696.25 L1437.80 600.00"/>
<rect x="1370.5" y="672" width="61" height="13.5" fill="#fff"/>
<text class="cad" x="1372.00" y="683.60" font-size="13.5" text-anchor="start" textLength="58.0" lengthAdjust="spacingAndGlyphs">ELEVATOR</text>
<path class="t" d="M1372.00 685.00 L1430.00 685.00"/>
<path class="o" d="M1357.80 693.00 L1331.25 693.00 L1331.25 703.90"/>
<path class="o" d="M1331.25 709.70 L1331.25 718.00 L1346.90 718.00"/>
<path class="s" d="M1352.00 715.00 L1352.00 771.25"/>
<path class="dk" d="M634.48 706.35 L670.73 728.35 L671.77 726.65 L635.52 704.65 Z"/>
<path class="t" d="M671.25 727.50 A42.40 42.40 0 0 0 677.16 700.93"/>
<path class="dk" d="M718.23 704.65 L681.98 726.65 L683.02 728.35 L719.27 706.35 Z"/>
<path class="t" d="M682.50 727.50 A42.40 42.40 0 0 1 676.60 700.90"/>
<path class="s" d="M718.75 708.00 L718.75 702.00 L832.50 702.00"/>
<path class="s" d="M718.75 708.00 L727.50 708.00 L727.50 750.00 L708.75 750.00 L708.75 756.25 L733.75 756.25 L733.75 708.00 L832.50 708.00"/>
<path class="s" d="M733.75 737.50 L790.00 737.50 L790.00 708.00"/>
<rect class="t" x="763.75" y="715.00" width="23.75" height="20.00"/>
<rect class="o" x="765.60" y="716.80" width="20.10" height="16.40"/>
<rect class="t" x="768.00" y="720.50" width="15.00" height="11.50"/>
<circle cx="775.5" cy="726.5" r="1.2" fill="#111"/>
<path class="t" d="M770.00 718.50 L781.00 718.50"/>
<rect class="s" x="793.75" y="708.75" width="35.00" height="34.25"/>
<path class="t" d="M793.75 708.75 L828.75 743.00"/>
<path class="t" d="M793.75 743.00 L828.75 708.75"/>
<path class="s" d="M832.50 495.00 L832.50 1293.20"/>
<path class="s" d="M837.80 495.00 L837.80 605.00"/>
<path class="s" d="M682.00 931.50 L682.00 833.00 L708.75 833.00 L708.75 828.75 L714.25 828.75 L714.25 833.00 L832.50 833.00"/>
<path class="s" d="M688.00 931.50 L688.00 838.75 L820.00 838.75 L820.00 847.00 L832.50 847.00"/>
<path class="s" d="M682.00 931.50 L688.00 931.50"/>
<path class="dl" d="M687.78 980.70 L708.28 945.70 L706.72 944.80 L686.22 979.80 Z"/>
<path class="t" d="M707.50 945.25 A40.56 40.56 0 0 0 687.00 939.69"/>
<path class="s" d="M688.00 980.00 L682.00 980.00 L682.00 996.50 L688.00 996.50"/>
<path class="s" d="M688.00 980.00 L688.00 986.00"/>
<path class="s" d="M688.00 991.50 L688.00 996.50"/>
<path class="s" d="M688.00 986.00 L832.50 986.00"/>
<path class="s" d="M688.00 991.50 L832.50 991.50"/>
<path class="s" d="M832.50 997.40 L820.60 997.40 L820.60 1010.00 L832.50 1010.00"/>
<path class="dl" d="M686.22 996.94 L706.72 1033.19 L708.28 1032.31 L687.78 996.06 Z"/>
<path class="t" d="M707.50 1032.75 A41.65 41.65 0 0 1 687.00 1038.15"/>
<path class="s" d="M688.00 1039.00 L682.00 1039.00 L682.00 1147.75"/>
<path class="s" d="M688.00 1039.00 L688.00 1136.50 L832.50 1136.50"/>
<path class="s" d="M688.00 1147.75 L688.00 1142.00 L832.50 1142.00"/>
<path class="s" d="M682.00 1147.75 L688.00 1147.75"/>
<path class="dl" d="M620.71 1147.31 L600.46 1183.56 L602.04 1184.44 L622.29 1148.19 Z"/>
<path class="t" d="M601.25 1184.00 A41.52 41.52 0 0 0 621.50 1189.27"/>
<path class="dl" d="M685.72 1148.20 L706.72 1184.45 L708.28 1183.55 L687.28 1147.30 Z"/>
<path class="t" d="M707.50 1184.00 A41.89 41.89 0 0 1 686.50 1189.64"/>
<path class="s" d="M620.00 1147.75 L627.50 1147.75"/>
<path class="s" d="M619.20 1190.80 L626.10 1190.80 L626.10 1195.80 L681.10 1195.80 L681.10 1190.80 L687.40 1190.80 L687.40 1200.90 L662.80 1200.90 L662.80 1253.30 L659.00 1253.30"/>
<path class="s" d="M625.50 1200.90 L657.10 1200.90 L657.10 1243.90 L625.50 1243.90"/>
<path class="s" d="M657.10 1243.90 L657.10 1252.70"/>
<path class="s" d="M657.10 1249.50 L625.50 1249.50 L625.50 1293.00"/>
<path class="s" d="M619.20 1190.80 L619.20 1276.70"/>
<path class="s" d="M625.50 1200.90 L625.50 1204.50"/>
<path class="s" d="M625.50 1240.50 L625.50 1243.90"/>
<path class="t" d="M620.60 1204.50 L620.60 1222.00 L622.60 1222.00 L622.60 1240.50"/>
<path class="t" d="M622.40 1204.50 L622.40 1222.00"/>
<path class="s" d="M608.40 1276.70 L608.40 1293.00"/>
<path class="dl" d="M657.00 1252.70 L658.60 1252.70 L661.60 1290.40 L660.00 1290.40 L657.00 1252.70"/>
<rect class="s" x="657.10" y="1290.20" width="5.70" height="3.60"/>
<path class="s" d="M620.00 1136.00 L524.50 1136.00 L524.50 1292.90"/>
<path class="s" d="M620.00 1141.50 L530.50 1141.50 L530.50 1292.90"/>
<path class="s" d="M886.25 495.00 L886.25 489.40 L937.50 489.40"/>
<path class="s" d="M886.25 495.00 L937.50 495.00"/>
<path class="s" d="M978.75 495.00 L978.75 489.40 L993.75 489.40"/>
<path class="s" d="M978.75 495.00 L993.75 495.00"/>
<path class="s" d="M1035.60 495.00 L1035.60 489.40 L1277.00 489.40"/>
<path class="s" d="M1035.60 495.00 L1271.50 495.00"/>
<path class="s" d="M937.50 489.40 L937.50 495.00"/>
<path class="s" d="M993.75 489.40 L993.75 495.00"/>
<path class="s" d="M845.60 489.40 L845.60 495.00"/>
<path class="s" d="M837.80 495.00 L845.60 495.00"/>
<path class="dl" d="M845.11 493.26 L880.76 516.36 L881.74 514.84 L846.09 491.74 Z"/>
<path class="t" d="M881.25 515.60 A42.48 42.48 0 0 0 888.08 492.50"/>
<path class="dl" d="M978.25 491.75 L942.50 515.50 L943.50 517.00 L979.25 493.25 Z"/>
<path class="t" d="M943.00 516.25 A42.92 42.92 0 0 1 935.83 492.50"/>
<path class="dl" d="M993.25 493.25 L1029.50 517.65 L1030.50 516.15 L994.25 491.75 Z"/>
<path class="t" d="M1030.00 516.90 A43.70 43.70 0 0 0 1037.45 492.50"/>
<path class="s" d="M838.50 495.00 L838.50 605.00"/>
<path class="s" d="M907.00 495.00 L907.00 605.00"/>
<path class="s" d="M912.50 495.00 L912.50 605.00"/>
<path class="s" d="M982.50 495.00 L982.50 610.60"/>
<path class="s" d="M988.00 495.00 L988.00 617.50 L982.50 617.50 L982.50 610.60"/>
<path class="s" d="M838.50 605.00 L907.00 605.00"/>
<path class="s" d="M912.50 605.00 L982.50 605.00"/>
<path class="s" d="M837.80 610.60 L982.50 610.60"/>
<rect class="s" x="888.75" y="518.75" width="17.50" height="17.50"/>
<path class="s" d="M891.5 521.5 L897 521.5 Q904 522.5 904 527.5 Q904 532.5 897 533.5 L891.5 533.5 Z"/>
<rect class="s" x="913.75" y="518.75" width="17.50" height="17.50"/>
<path class="s" d="M928.5 521.5 L923 521.5 Q916 522.5 916 527.5 Q916 532.5 923 533.5 L928.5 533.5 Z"/>
<path d="M916 525.5 L918.5 526 L918.5 529 L916 529.5Z" fill="#111"/>
<ellipse class="k" cx="875.60" cy="585.60" rx="11.20" ry="9.80"/>
<rect class="k" x="893.20" y="573.75" width="9.30" height="23.55"/>
<rect class="t" x="895.50" y="576.00" width="4.70" height="19.00"/>
<path class="s" d="M883.60 578.80 L893.20 581.10"/>
<path class="s" d="M883.60 592.40 L893.20 590.10"/>
<ellipse class="k" cx="944.40" cy="585.60" rx="11.20" ry="9.80"/>
<rect class="k" x="918.00" y="573.75" width="9.30" height="23.55"/>
<rect class="t" x="920.30" y="576.00" width="4.70" height="19.00"/>
<path class="s" d="M936.40 578.80 L927.30 581.10"/>
<path class="s" d="M936.40 592.40 L927.30 590.10"/>
<text class="cad" x="857.00" y="559.80" font-size="12.5" text-anchor="start" textLength="24.3" lengthAdjust="spacingAndGlyphs">MEN</text>
<path class="t" d="M856.50 561.00 L881.50 561.00"/>
<text class="cad" x="927.75" y="559.80" font-size="12.5" text-anchor="start" textLength="42.3" lengthAdjust="spacingAndGlyphs">WOMEN</text>
<path class="t" d="M927.30 561.00 L970.50 561.00"/>
<rect class="s" x="838.50" y="611.50" width="41.50" height="43.00"/>
<path class="t" d="M838.50 611.50 L880.00 654.50"/>
<path class="t" d="M838.50 654.50 L880.00 611.50"/>
<rect class="s" x="838.50" y="660.00" width="67.75" height="29.40"/>
<path class="t" d="M838.50 660.00 L906.25 689.40"/>
<path class="t" d="M838.50 689.40 L906.25 660.00"/>
<path class="s" d="M838.00 655.00 L912.00 655.00 L912.00 689.40 L982.50 689.40"/>
<path class="s" d="M982.50 695.00 L853.00 695.00 L853.00 708.00 L837.80 708.00"/>
<ellipse class="s" cx="930.60" cy="664.50" rx="9.80" ry="13.80"/>
<ellipse class="t" cx="930.60" cy="665.50" rx="7.60" ry="11.20"/>
<rect class="k" x="917.50" y="678.75" width="25.00" height="10.00"/>
<rect class="t" x="920.00" y="681.50" width="20.00" height="7.25"/>
<rect class="s" x="954.40" y="663.75" width="28.10" height="25.65"/>
<ellipse class="s" cx="968.00" cy="677.00" rx="10.40" ry="8.60"/>
<ellipse class="t" cx="968.00" cy="678.00" rx="7.60" ry="5.80"/>
<circle cx="968.3" cy="676.5" r="1.1" fill="#111"/>
<path class="dl" d="M984.55 617.00 L961.15 652.50 L962.65 653.50 L986.05 618.00 Z"/>
<path class="t" d="M961.90 653.00 A42.52 42.52 0 0 0 985.30 660.02"/>
<path class="s" d="M982.50 689.40 L982.50 658.75 L988.00 658.75 L988.00 752.50"/>
<path class="s" d="M982.50 695.00 L982.50 752.50"/>
<path class="s" d="M982.50 752.50 L988.00 752.50"/>
<path class="dl" d="M985.76 794.52 L962.76 758.27 L961.24 759.23 L984.24 795.48 Z"/>
<path class="t" d="M962.00 758.75 A42.93 42.93 0 0 1 985.00 752.07"/>
<path class="s" d="M982.00 795.00 L982.00 835.00"/>
<path class="s" d="M982.00 795.00 L987.50 795.00 L987.50 842.50 L978.75 842.50"/>
<path class="s" d="M837.80 800.00 L982.00 800.00"/>
<path class="s" d="M837.80 806.25 L982.00 806.25"/>
<path class="t" d="M952.50 807.50 L981.00 836.00"/>
<path class="t" d="M971.75 811.5 L977 816.8 L971.75 822 L966.5 816.8 Z"/><path class="t" d="M971.75 814.6 L974 816.8 L971.75 819 L969.5 816.8 Z"/>
<path class="dl" d="M978.52 840.38 L936.07 851.63 L936.53 853.37 L978.98 842.12 Z"/>
<path class="t" d="M936.30 852.50 A43.92 43.92 0 0 0 946.41 870.96"/>
<path class="s" d="M951.20 874.40 L946.10 871.25 L910.50 907.50 L872.50 907.50 L872.50 937.50 L837.80 937.50"/>
<path class="s" d="M951.20 874.40 L944.90 880.60"/>
<path class="s" d="M940.60 886.10 L913.75 913.00 L878.00 913.00 L878.00 943.00 L837.80 943.00"/>
<path class="db" d="M944.90 880.60 L979.70 917.30"/>
<path class="db" d="M940.60 886.10 L973.40 918.90"/>
<path class="s" d="M980.00 916.00 L1016.00 882.00 L1081.00 882.00 L1081.00 932.50 L1075.00 932.50 L1075.00 888.00 L1018.75 888.00 L982.00 922.50"/>
<path class="s" d="M975.50 915.00 L975.50 1022.50"/>
<path class="s" d="M981.25 922.00 L981.25 1022.50"/>
<path class="s" d="M975.50 915.00 L980.00 916.00"/>
<path class="s" d="M850.00 1022.50 L1083.75 1022.50 L1083.75 1027.50 L837.80 1027.50"/>
<path class="s" d="M837.80 1008.75 L850.00 1008.75 L850.00 1022.50"/>
<path class="s" d="M1047.75 808.00 L1047.75 630.00 L1059.50 630.00"/>
<path class="db" d="M1059.50 630.00 L1097.00 630.00"/>
<path class="s" d="M1097.00 630.00 L1153.10 630.00"/>
<path class="s" d="M1053.50 802.50 L1053.50 636.00 L1059.50 636.00"/>
<path class="db" d="M1059.50 636.00 L1097.00 636.00"/>
<path class="s" d="M1097.00 636.00 L1158.60 636.00"/>
<path class="s" d="M1047.75 802.50 L1028.75 802.50 L1028.75 808.00 L1053.50 808.00 L1053.50 802.50"/>
<path class="s" d="M1153.10 630.00 L1153.10 602.30 L1206.00 602.30 L1206.00 630.00 L1243.75 630.00 L1243.75 611.70 L1271.90 611.70 L1271.90 495.00"/>
<path class="s" d="M1158.60 782.80 L1158.60 607.80 L1200.00 607.80 L1200.00 636.25 L1243.75 636.25"/>
<path class="s" d="M1243.75 630.00 L1243.75 639.00 L1248.40 639.00 L1248.40 617.20 L1277.30 617.20 L1277.30 489.40"/>
<path class="da" d="M1164.80 636.25 L1200.00 636.25"/>
<path class="dl" d="M1245.24 638.52 L1222.64 674.52 L1224.16 675.48 L1246.76 639.48 Z"/>
<path class="t" d="M1223.40 675.00 A42.51 42.51 0 0 0 1246.00 681.51"/>
<path class="s" d="M1243.75 681.25 L1249.20 681.25 L1249.20 703.90 L1331.25 703.90"/>
<path class="s" d="M1243.75 681.25 L1243.75 709.70 L1331.25 709.70"/>
<path class="da" d="M1028.75 808.00 L1028.75 882.00"/>
<path class="da" d="M1053.50 882.00 L1053.50 836.00 L1112.50 836.00 L1164.80 784.40 L1164.80 636.25"/>
<path class="da" d="M1053.50 802.50 L1081.25 802.50"/>
<path class="da" d="M1088.00 802.50 L1097.50 802.50 L1130.00 770.00 L1130.00 636.25"/>
<path class="s" d="M1118.75 636.25 L1118.75 764.00 L1110.00 773.40 L1081.25 773.40 L1081.25 813.50 L1127.30 813.50 L1158.60 782.80"/>
<path class="s" d="M1141.90 636.25 L1141.90 776.50 L1115.60 803.00 L1115.60 813.50"/>
<path class="s" d="M1344.80 883.40 L1176.50 883.40 L1131.25 929.00 L1131.25 1110.00"/>
<path class="s" d="M1344.80 889.70 L1179.00 889.70 L1137.00 932.00 L1137.00 1021.25 L1331.00 1021.25"/>
<path d="M1165.5 890 L1173.5 898 L1147 924.5 L1139 916.5Z" fill="#fff"/>
<path class="db" d="M1168.60 891.30 L1142.60 917.50"/>
<path class="db" d="M1172.00 894.60 L1146.00 920.80"/>
<path class="t" d="M1166.00 894.00 L1170.00 898.00"/>
<path class="t" d="M1142.00 918.00 L1146.00 922.00"/>
<rect class="s" x="1201.50" y="883.40" width="111.00" height="6.30"/>
<path class="t" d="M1201.50 885.50 L1312.50 885.50"/>
<path class="o" d="M1201.50 887.60 L1312.50 887.60"/>
<rect class="s" x="1131.25" y="943.00" width="5.75" height="62.60"/>
<path class="t" d="M1133.20 943.00 L1133.20 1005.60"/>
<path class="t" d="M1135.10 943.00 L1135.10 1005.60"/>
<path class="s" d="M1344.80 858.75 L1339.00 858.75 L1339.00 883.40"/>
<path class="s" d="M1346.00 858.75 L1344.80 858.75"/>
<path class="t" d="M1344.80 965.00 L1316.40 965.00 L1316.40 1021.25"/>
<path class="t" d="M1344.80 1008.00 L1331.00 1008.00 L1331.00 1021.25 L1344.80 1021.25"/>
<path class="s" d="M1137.00 1026.00 L1344.60 1026.00"/>
<path class="s" d="M1131.25 1110.00 L1137.00 1110.00"/>
<path class="s" d="M1137.00 1026.00 L1137.00 1110.00"/>
<path class="s" d="M1242.00 1026.00 L1242.00 1055.00 L1344.60 1055.00"/>
<rect class="t" x="1315.30" y="1028.00" width="27.70" height="25.00"/>
<rect class="o" x="1316.90" y="1029.60" width="24.50" height="21.80"/>
<rect class="s" x="1318.70" y="1034.00" width="20.90" height="15.60"/>
<circle cx="1329.7" cy="1042.5" r="1.3" fill="#111"/>
<path class="k" d="M1322.30 1031.60 L1336.00 1031.60"/>
<path class="s" d="M1242.00 1163.75 L1242.00 1192.50 L1344.60 1192.50"/>
<rect class="t" x="1315.30" y="1166.00" width="27.70" height="25.00"/>
<rect class="o" x="1316.90" y="1167.60" width="24.50" height="21.80"/>
<rect class="s" x="1318.70" y="1172.00" width="20.90" height="15.60"/>
<circle cx="1329.7" cy="1180.5" r="1.3" fill="#111"/>
<path class="k" d="M1322.30 1169.60 L1336.00 1169.60"/>
<path class="dl" d="M1134.76 1151.74 L1158.26 1115.49 L1156.74 1114.51 L1133.24 1150.76 Z"/>
<path class="t" d="M1157.50 1115.00 A43.20 43.20 0 0 0 1134.00 1108.05"/>
<path class="s" d="M1137.00 1151.25 L1131.25 1151.25 L1131.25 1170.00 L1137.00 1170.00"/>
<path class="s" d="M1137.00 1151.25 L1137.00 1158.00"/>
<path class="s" d="M1137.00 1163.75 L1137.00 1170.00"/>
<path class="s" d="M1137.00 1158.00 L1339.80 1158.00"/>
<path class="s" d="M1137.00 1163.75 L1344.60 1163.75"/>
<path class="dl" d="M1133.25 1170.50 L1156.75 1205.50 L1158.25 1204.50 L1134.75 1169.50 Z"/>
<path class="t" d="M1157.50 1205.00 A42.16 42.16 0 0 1 1134.00 1212.16"/>
<path class="s" d="M1137.00 1211.25 L1137.00 1293.75"/>
<path class="s" d="M1131.25 1211.25 L1131.25 1293.75"/>
<path class="s" d="M1131.25 1211.25 L1137.00 1211.25"/>
<rect class="s" x="1112.50" y="1217.50" width="18.75" height="5.00"/>
<path class="dl" d="M1112.96 1216.72 L1076.71 1195.47 L1075.79 1197.03 L1112.04 1218.28 Z"/>
<path class="t" d="M1076.25 1196.25 A42.02 42.02 0 0 0 1070.48 1217.50"/>
<path class="s" d="M1046.25 1293.60 L1046.25 1211.25 L1051.25 1211.25 L1051.25 1216.25 L1070.00 1216.25 L1070.00 1222.50 L1052.00 1222.50 L1052.00 1293.60"/>
<path class="s" d="M1046.25 1027.50 L1046.25 1033.75 L1052.50 1033.75 L1052.50 1027.50"/>
<path class="dl" d="M1048.25 1033.26 L1025.50 1068.26 L1027.00 1069.24 L1049.75 1034.24 Z"/>
<path class="t" d="M1026.25 1068.75 A41.74 41.74 0 0 0 1049.00 1075.49"/>
<path class="s" d="M1046.25 1163.75 L1046.25 1074.50 L1051.25 1074.50 L1051.25 1080.50 L1083.75 1080.50 L1083.75 1092.50 L1078.75 1092.50 L1078.75 1086.75 L1052.00 1086.75 L1052.00 1158.00 L1078.75 1158.00 L1078.75 1150.00 L1083.75 1150.00 L1083.75 1163.75 L1052.00 1163.75"/>
<path class="s" d="M1083.75 1092.50 L1097.50 1117.50 L1091.25 1121.75"/>
<path class="t" d="M1082.20 1093.80 L1095.30 1117.60 L1090.50 1120.60"/>
<path class="t" d="M1078.75 1121.75 L1091.25 1121.75"/>
<path class="s" d="M1091.25 1121.75 L1097.50 1125.00 L1083.75 1150.00"/>
<path class="t" d="M1090.50 1123.00 L1095.30 1125.50 L1082.20 1148.80"/>
<path class="s" d="M837.80 1158.00 L1046.25 1158.00"/>
<path class="s" d="M837.80 1163.75 L1046.25 1163.75"/>
<path class="s" d="M941.25 1158.00 L941.25 1128.75 L837.80 1128.75"/>
<rect class="t" x="839.50" y="1129.50" width="28.50" height="27.50"/>
<rect class="o" x="841.10" y="1131.10" width="25.30" height="24.30"/>
<rect class="s" x="842.90" y="1135.50" width="21.70" height="18.10"/>
<circle cx="854.2" cy="1145.2" r="1.3" fill="#111"/>
<path class="k" d="M846.50 1133.10 L861.00 1133.10"/>
<path class="s" d="M1046.25 1163.75 L1046.25 1170.00 L1052.00 1170.00 L1052.00 1163.75"/>
<path class="dl" d="M1048.25 1169.51 L1025.50 1204.51 L1027.00 1205.49 L1049.75 1170.49 Z"/>
<path class="t" d="M1026.25 1205.00 A41.74 41.74 0 0 0 1049.00 1211.74"/>
<path class="s" d="M850.00 1265.00 L955.00 1265.00 L955.00 1293.40"/>
<rect class="t" x="851.00" y="1265.75" width="30.00" height="25.25"/>
<rect class="o" x="852.60" y="1267.35" width="26.80" height="22.05"/>
<rect class="s" x="854.40" y="1271.75" width="23.20" height="15.85"/>
<circle cx="866.5" cy="1280.4" r="1.3" fill="#111"/>
<path class="k" d="M858.00 1269.35 L874.00 1269.35"/>
<path class="s" d="M837.80 1280.00 L850.00 1280.00 L850.00 1293.30"/>
<path class="s" d="M850.00 1265.00 L850.00 1280.00"/>
<path class="s" d="M837.80 1027.50 L837.80 1293.30"/>
<path class="s" d="M837.80 610.60 L837.80 1027.50"/>
<text class="cad" x="453.20" y="947.20" font-size="11.5" text-anchor="start" textLength="42.0" lengthAdjust="spacingAndGlyphs" xml:space="preserve">UNIT  #1</text>
<path class="t" d="M452.70 948.60 L495.70 948.60"/>
<text class="cad" x="724.90" y="947.20" font-size="11.5" text-anchor="start" textLength="46.4" lengthAdjust="spacingAndGlyphs" xml:space="preserve">UNIT  #2</text>
<path class="t" d="M724.40 948.60 L771.80 948.60"/>
<text class="cad" x="1008.10" y="947.20" font-size="11.5" text-anchor="start" textLength="47.4" lengthAdjust="spacingAndGlyphs" xml:space="preserve">UNIT  #3</text>
<path class="t" d="M1007.60 948.60 L1056.00 948.60"/>
<ellipse class="t" cx="1222.20" cy="1345.20" rx="13.50" ry="13.50"/>
<path class="t" d="M1208.70 1345.20 L1235.70 1345.20"/>
<text class="cad" x="1222.20" y="1342.50" font-size="7.5" text-anchor="middle">1</text>
<text class="cad" x="1222.20" y="1354.00" font-size="8" text-anchor="middle" textLength="17.0" lengthAdjust="spacingAndGlyphs">A1.2</text>
<text class="cad" x="1239.80" y="1342.60" font-size="18.4" text-anchor="start" textLength="250.5" lengthAdjust="spacingAndGlyphs">EXISTING SECOND FLOOR PLAN</text>
<path class="t" d="M1239.80 1347.00 L1490.50 1347.00"/>
<text class="cad" x="1242.40" y="1353.60" font-size="6.5" text-anchor="start" textLength="64.0" lengthAdjust="spacingAndGlyphs">SCALE: 1/4"=1'-0"</text>
<path class="hw" d="M424.4 964.7 L421.0 988.1"/>
<path class="hw" d="M436.3 985.2 L430.5 1000.3"/>
<path class="hw" d="M464.0 958.8 Q447.9 969.6 448.3 970.5 Q448.8 971.5 463.0 973.0"/>
<path class="hw" d="M463.3 959.3 L458.6 987.6"/>
<path class="hw" d="M477.1 961.7 Q469.8 967.1 470.1 972.5 Q470.3 977.9 473.7 980.0 Q477.1 982.2 481.1 979.1 Q485.0 975.9 484.5 971.0 Q484.0 966.1 477.1 961.7"/>
<path class="hw" d="M488.4 962.2 Q487.4 973.0 489.6 973.5 Q491.8 973.9 502.1 972.5"/>
<path class="hw" d="M506.9 954.9 Q503.5 972.0 498.6 989.1"/>
<path class="hw" d="M526.5 959.8 Q521.1 971.0 517.7 980.3"/>
<path class="hw" d="M526.0 959.8 Q536.2 961.2 536.5 964.7 Q536.7 968.1 525.0 974.9"/>
<path class="hw" d="M525.0 974.9 Q529.9 982.7 530.9 992.0"/>
<path class="hw" d="M552.8 963.7 Q541.6 967.6 541.6 969.6 Q541.6 971.5 546.2 973.0 Q550.9 974.4 550.9 976.6 Q550.9 978.8 540.6 982.2"/>
<path class="hw" d="M560.2 961.2 L556.7 983.2"/>
<path class="hw" d="M560.2 961.2 Q571.9 956.4 581.6 952.3"/>
<path class="hw" d="M558.7 972.5 L572.4 968.1"/>
<path class="hw" d="M707.8 968.1 L700.7 991.5"/>
<path class="hw" d="M716.9 988.1 L711.4 1004.2"/>
<path class="hw" d="M723.0 975.9 Q732.7 971.5 735.2 973.0 Q737.6 974.4 734.7 978.6 Q731.8 982.7 729.3 985.2 Q726.9 987.6 738.6 985.7"/>
<path class="hw" d="M756.2 973.0 L743.5 975.4"/>
<path class="hw" d="M743.5 975.4 Q741.0 980.8 746.2 980.3 Q751.3 979.8 753.5 981.5 Q755.7 983.2 753.0 985.2 Q750.3 987.1 741.5 987.6"/>
<path class="hw" d="M763.0 968.3 Q776.2 964.4 774.0 969.2 Q771.8 973.9 769.8 978.1 Q767.9 982.2 772.3 983.2 Q776.7 984.2 786.0 984.7"/>
<path class="hw" d="M803.5 960.3 Q797.2 973.0 791.3 986.6"/>
<path class="hw" d="M803.0 960.5 Q816.7 961.7 817.7 963.7 Q818.7 965.6 802.1 973.0"/>
<path class="hw" d="M802.1 973.0 Q810.9 977.9 818.7 983.2"/>
<path class="hw" d="M835.3 952.9 Q833.3 965.2 830.9 976.9"/>
<path class="hw" d="M833.3 954.4 Q846.0 952.7 856.3 952.0"/>
<path class="hw" d="M832.3 964.7 Q840.2 963.2 847.0 962.2"/>
<path class="hw" d="M829.4 959.3 Q823.6 963.2 826.0 966.1 Q828.4 969.1 826.0 972.5 Q823.6 975.9 816.7 980.8"/>
<path class="hw" d="M967.6 975.9 Q986.1 970.5 982.7 974.7 Q979.3 978.8 976.6 982.7 Q973.9 986.6 989.1 986.2"/>
<path class="hw" d="M995.9 988.6 Q984.4 1005.7 988.6 1005.7"/>
<path class="hw" d="M1021.3 969.1 L1005.2 973.0"/>
<path class="hw" d="M1005.2 973.0 Q1002.7 977.9 1009.6 977.9 Q1016.4 977.9 1018.6 980.3 Q1020.8 982.7 1017.6 984.9 Q1014.5 987.1 1003.2 989.6"/>
<path class="hw" d="M1037.9 968.1 Q1030.6 975.4 1030.3 979.8 Q1030.1 984.2 1035.4 984.4 Q1040.8 984.7 1041.6 981.5 Q1042.3 978.3 1032.5 977.9"/>
<path class="hw" d="M1058.4 967.1 Q1051.6 972.0 1051.8 976.4 Q1052.1 980.8 1055.2 982.5 Q1058.4 984.2 1061.8 981.5 Q1065.2 978.8 1065.0 974.4 Q1064.7 970.0 1058.4 967.1"/>
<path class="hw" d="M1086.2 965.2 Q1080.9 973.9 1077.0 981.8"/>
<path class="hw" d="M1085.7 965.4 Q1094.5 963.2 1094.0 966.9 Q1093.6 970.5 1083.8 974.9"/>
<path class="hw" d="M1083.8 974.9 Q1093.6 980.8 1102.3 986.6"/>
<path class="hw" d="M1111.1 967.1 Q1102.8 970.5 1104.1 972.7 Q1105.3 974.9 1108.2 976.9 Q1111.1 978.8 1109.7 981.3 Q1108.2 983.7 1102.3 986.6"/>
<path class="hw" d="M1124.8 965.2 Q1122.4 973.9 1119.9 981.8"/>
<path class="hw" d="M1124.8 965.4 Q1135.5 963.7 1143.8 962.2"/>
<path class="hw" d="M1122.9 973.2 Q1133.6 971.5 1144.3 969.8"/>
<path class="t" d="M606.50 492.30 L617.50 492.30"/>
<path class="t" d="M660.00 492.30 L845.60 492.30"/>
<path class="t" d="M886.25 492.30 L937.50 492.30"/>
<path class="t" d="M978.75 492.30 L993.75 492.30"/>
<path class="t" d="M1035.60 492.30 L1277.00 492.30"/>
<path class="t" d="M835.10 495.00 L835.10 1293.00"/>
</svg>
</body></html>
